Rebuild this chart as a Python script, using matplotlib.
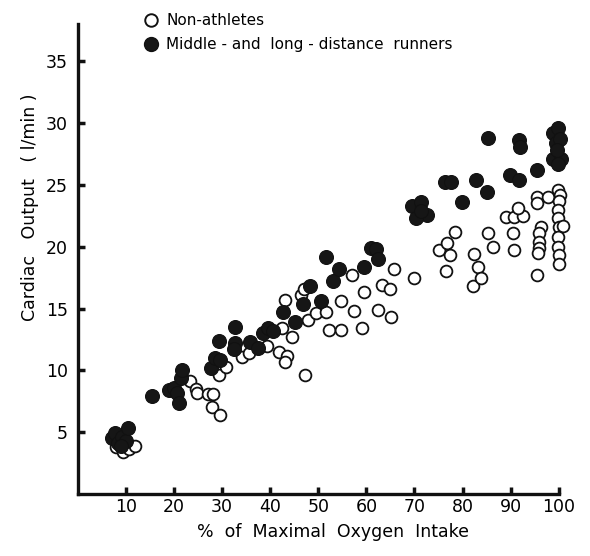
import matplotlib
matplotlib.use("Agg")
import matplotlib.pyplot as plt
from matplotlib.lines import Line2D

# % of maximal oxygen intake / cardiac output (l/min)
nonath_x = [8.0, 9.3, 10.6, 11.8,
            23.4, 24.5, 24.8, 27.0, 28.0, 27.9, 29.6, 29.3, 30.8,
            34.1, 35.5, 39.4,
            42.4, 44.6, 41.9, 43.4, 43.0, 43.0, 47.2, 46.5, 47.1,
            47.8, 49.6, 51.6, 52.3, 54.8, 54.7, 57.4, 59.0, 59.6, 57.1,
            62.4, 63.3, 65.0, 65.2, 65.8, 69.8,
            75.1, 76.8, 77.3, 76.5, 78.4, 82.2, 82.4, 83.2, 83.9, 85.2,
            86.3, 89.0, 90.8, 92.5, 91.5, 90.4, 90.6,
            95.4, 97.7, 95.4, 96.3, 96.0, 95.8, 96.0, 95.7, 95.4,
            99.9, 100.2, 100.0, 99.8, 99.9, 100.1, 100.9, 99.9, 99.9,
            100.0, 100.1]
nonath_y = [3.8, 3.4, 3.6, 3.9,
            9.1, 8.5, 8.2, 8.1, 8.1, 7.0, 6.4, 9.6, 10.3,
            11.1, 11.4, 12.0,
            13.4, 12.7, 11.5, 11.2, 10.7, 15.7, 9.6, 16.1, 16.6,
            14.1, 14.6, 14.7, 13.3, 13.3, 15.6, 14.8, 13.4, 16.3, 17.7,
            14.9, 16.9, 16.6, 14.3, 18.2, 17.5,
            19.7, 20.3, 19.3, 18.0, 21.2, 16.8, 19.4, 18.4, 17.5, 21.1,
            20.0, 22.4, 22.4, 22.5, 23.1, 21.1, 19.7,
            24.0, 24.0, 23.5, 21.6, 21.1, 20.4, 19.9, 19.5, 17.7,
            24.6, 24.2, 23.7, 23.0, 22.3, 21.6, 21.7, 20.8, 20.0,
            19.3, 18.6]

runner_x = [7.0, 7.8, 8.4, 9.2, 10.0, 10.5, 9.0,
            15.4, 19.0, 19.9, 20.6, 21.0, 21.4, 21.7,
            27.7, 28.6, 29.6, 29.4, 32.7, 32.7, 32.5,
            35.8, 37.5, 38.6, 39.6, 40.6,
            42.7, 45.1, 46.8, 48.3, 50.6, 51.6, 53.0, 54.2,
            59.6, 60.9, 62.0, 62.5,
            69.4, 71.3, 72.6, 70.4, 71.3,
            76.3, 77.5, 79.8, 82.7, 85.1, 85.3, 89.8, 91.8, 91.8, 91.9,
            95.4,
            98.8, 99.9, 99.4, 100.2, 98.8, 100.4, 99.9, 99.6]
runner_y = [4.5, 4.9, 4.1, 4.6, 4.3, 5.3, 3.9,
            7.9, 8.4, 8.6, 8.2, 7.4, 9.4, 10.0,
            10.2, 11.0, 10.8, 12.4, 13.5, 12.2, 11.7,
            12.3, 11.8, 13.0, 13.4, 13.2,
            14.7, 13.9, 15.4, 16.8, 15.6, 19.2, 17.2, 18.2,
            18.4, 19.9, 19.8, 19.0,
            23.3, 23.6, 22.6, 22.3, 22.9,
            25.2, 25.2, 23.6, 25.4, 24.4, 28.8, 25.8, 25.4, 28.6, 28.1,
            26.2,
            29.2, 29.6, 28.4, 28.7, 27.1, 27.1, 26.7, 27.8]

x_ticks = [10, 20, 30, 40, 50, 60, 70, 80, 90, 100]
y_ticks = [5, 10, 15, 20, 25, 30, 35]

plt.rcParams["font.family"] = ["DejaVu Sans"]

fig = plt.figure(figsize=(5.9, 5.56), dpi=100)
ax = fig.add_axes([0.132, 0.1115, 0.815, 0.845])

ax.scatter(nonath_x, nonath_y, s=72, facecolors="white",
           edgecolors="#111111", linewidths=1.3, zorder=3, clip_on=False)
ax.scatter(runner_x, runner_y, s=100, facecolors="#161616",
           edgecolors="#111111", linewidths=0.8, zorder=4, clip_on=False)

ax.set_xlim(0, 100)
ax.set_ylim(0, 38)
ax.set_xticks(x_ticks)
ax.set_yticks(y_ticks)
ax.tick_params(direction="in", length=5, width=2.5, labelsize=12.5,
               color="#111111")
ax.tick_params(axis="x", pad=3)
ax.tick_params(axis="y", pad=7)

for side in ["top", "right"]:
    ax.spines[side].set_visible(False)
for side in ["left", "bottom"]:
    ax.spines[side].set_linewidth(2.4)
    ax.spines[side].set_color("#111111")

ax.set_xlabel("%  of  Maximal  Oxygen  Intake", fontsize=12.5)
ax.xaxis.set_label_coords(0.53, -0.062)
ax.set_ylabel("Cardiac   Output   ( l/min )", fontsize=12.5)
ax.yaxis.set_label_coords(-0.08, 0.61)

handles = [
    Line2D([], [], marker="o", linestyle="none", markersize=9,
           markerfacecolor="white", markeredgecolor="#111111",
           markeredgewidth=1.4),
    Line2D([], [], marker="o", linestyle="none", markersize=10,
           markerfacecolor="#161616", markeredgecolor="#111111"),
]
fig.legend(handles, ["Non-athletes", "Middle - and  long - distance  runners"],
           loc="upper left", bbox_to_anchor=(0.225, 0.995), frameon=False,
           fontsize=11, handletextpad=0.5, labelspacing=0.55,
           borderaxespad=0.3, handlelength=1.0)

fig.savefig("out.png", dpi=100)
